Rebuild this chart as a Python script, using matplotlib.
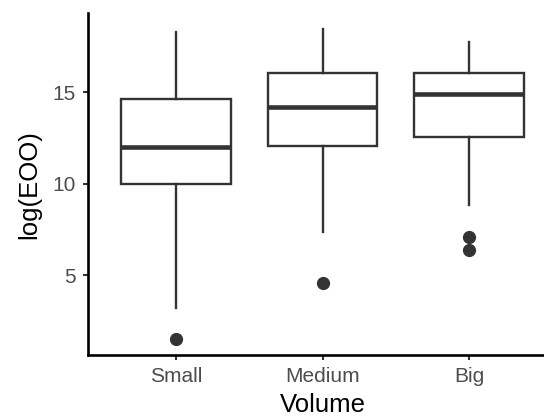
import matplotlib
matplotlib.use('Agg')
import matplotlib.pyplot as plt

plt.rcParams['font.family'] = ['Liberation Sans', 'DejaVu Sans']

# box statistics
categories = ['Small', 'Medium', 'Big']
whisker_low = [3.18, 7.37, 8.83]
q1 = [9.97, 12.08, 12.54]
median = [12.03, 14.18, 14.91]
q3 = [14.62, 16.04, 16.04]
whisker_high = [18.32, 18.47, 17.77]
outliers = [[1.48], [4.55], [7.10, 6.37]]

yticks = [5, 10, 15]

EDGE = '#333333'

stats = []
for i, name in enumerate(categories):
    stats.append(dict(label=name, whislo=whisker_low[i], q1=q1[i], med=median[i],
                      q3=q3[i], whishi=whisker_high[i], fliers=outliers[i]))

fig = plt.figure(figsize=(5.44, 4.16), dpi=100)
W, H = 544, 416
# axes runs past the right edge like the cropped reference
ax = fig.add_axes([88 / W, (H - 355) / H, (557 - 88) / W, (355 - 13.3) / H])

ax.bxp(stats, positions=[1, 2, 3], widths=0.75, showcaps=False, patch_artist=True,
       boxprops=dict(facecolor='white', edgecolor=EDGE, linewidth=1.7),
       whiskerprops=dict(color=EDGE, linewidth=1.7),
       medianprops=dict(color=EDGE, linewidth=3.3, solid_capstyle='butt'),
       flierprops=dict(marker='o', markerfacecolor=EDGE, markeredgecolor=EDGE,
                       markersize=8.5, linestyle='none'))

ax.set_xlim(0.4, 3.6)
ax.set_ylim(0.62, 19.33)
ax.set_yticks(yticks)
ax.set_xticks([1, 2, 3])
ax.set_xticklabels(categories)

for side in ['top', 'right']:
    ax.spines[side].set_visible(False)
for side in ['left', 'bottom']:
    ax.spines[side].set_linewidth(1.9)
    ax.spines[side].set_color('black')

ax.tick_params(axis='both', length=3.8, width=1.5, color=EDGE, labelcolor='#4d4d4d',
               labelsize=15, pad=5)

ax.set_xlabel('Volume', fontsize=18.5, color='black', labelpad=5)
ax.set_ylabel('log(EOO)', fontsize=18.5, color='black', labelpad=8)

fig.savefig('out.png', dpi=100)
